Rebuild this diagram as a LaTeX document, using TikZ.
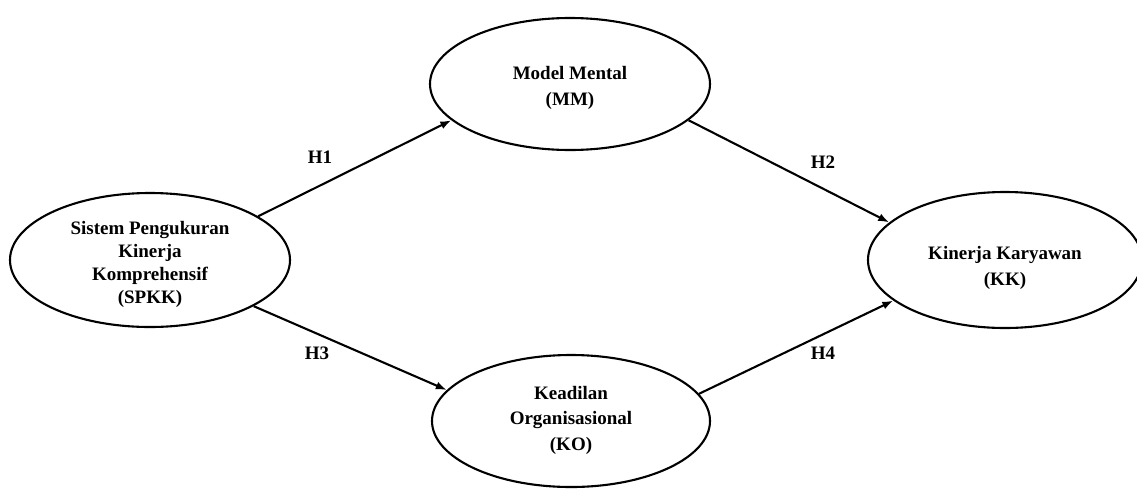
\documentclass[tikz,border=0pt]{standalone}
\usepackage{fontspec}
\setmainfont{Liberation Serif}
\usetikzlibrary{shapes.geometric,arrows.meta}
\begin{document}
\begin{tikzpicture}[x=1pt,y=-1pt,
  latent/.style={ellipse,draw,line width=2.1pt,inner sep=0pt},
  ltext/.style={align=center,inner sep=0pt,font=\bfseries\fontsize{19}{25.5}\selectfont},
  hyp/.style={-{Latex[length=11pt,width=8pt]},line width=2.1pt},
  hlabel/.style={font=\bfseries\fontsize{19}{23}\selectfont,inner sep=0pt}]
\useasboundingbox (0,0) rectangle (1137,488);
\node[latent,minimum width=280pt,minimum height=134pt] (spkk) at (150,260) {};
\node[latent,minimum width=280pt,minimum height=132pt] (mm) at (570,84) {};
\node[latent,minimum width=278pt,minimum height=132pt] (ko) at (571,421) {};
\node[latent,minimum width=274pt,minimum height=136pt] (kk) at (1005,260) {};
\node[ltext,font=\bfseries\fontsize{19}{23}\selectfont] (spkkt) at ([yshift=-4pt]spkk.center)
  {Sistem Pengukuran\\Kinerja\\Komprehensif\\(SPKK)};
\node[ltext] (mmt) at ([yshift=-4pt]mm.center) {Model Mental\\(MM)};
\node[ltext] (kot) at ([yshift=1pt]ko.center) {Keadilan\\Organisasional\\(KO)};
\node[ltext] (kkt) at ([yshift=-8pt]kk.center) {Kinerja Karyawan\\(KK)};
\draw[hyp] (spkk.22) -- (mm.197.5);
\draw[hyp] (mm.-17) -- (kk.162);
\draw[hyp] (spkk.-24.4) -- (ko.166.8);
\draw[hyp] (ko.12.9) -- (kk.200.6);
\node[hlabel] (h1) at (320,157) {H1};
\node[hlabel] (h2) at (823,162) {H2};
\node[hlabel] (h3) at (317,353) {H3};
\node[hlabel] (h4) at (823,353) {H4};
\end{tikzpicture}
\end{document}
